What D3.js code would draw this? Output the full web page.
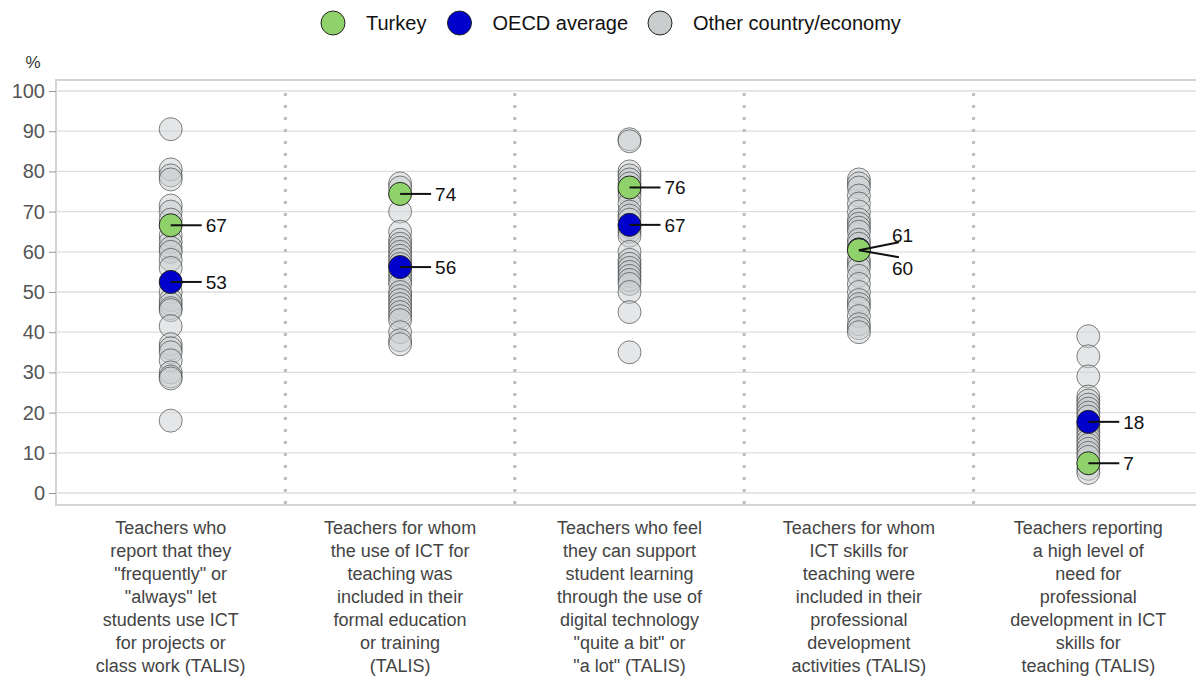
<!DOCTYPE html>
<html>
<head>
<meta charset="utf-8">
<script src="https://cdn.jsdelivr.net/npm/d3@7"></script>
<style>
  body { margin: 0; background: #fff; }
  svg { font-family: "Liberation Sans", Arial, sans-serif; }
</style>
</head>
<body>
<div id="chart"></div>
<script>
var categories = [
  ["Teachers who", "report that they", "\"frequently\" or", "\"always\" let", "students use ICT", "for projects or", "class work (TALIS)"],
  ["Teachers for whom", "the use of ICT for", "teaching was", "included in their", "formal education", "or training", "(TALIS)"],
  ["Teachers who feel", "they can support", "student learning", "through the use of", "digital technology", "\"quite a bit\" or", "\"a lot\" (TALIS)"],
  ["Teachers for whom", "ICT skills for", "teaching were", "included in their", "professional", "development", "activities (TALIS)"],
  ["Teachers reporting", "a high level of", "need for", "professional", "development in ICT", "skills for", "teaching (TALIS)"]
];

var turkey = [66.6, 74.4, 76.0, 60.4, 7.4];
var oecd = [52.5, 56.2, 66.7, 60.6, 17.7];

var others = [
  [90.5, 80.5, 79, 78, 71.5, 70, 68, 64, 62.5, 61, 60, 58, 56, 50, 48, 47, 46, 45.5, 41.5, 37, 36, 35, 33, 30, 29, 28.5, 18],
  [77, 76, 70, 65, 63, 62, 61, 60, 59, 58, 57, 55, 54, 53, 52, 50, 49, 48, 47, 46, 45, 44, 43, 40, 38, 37],
  [88, 87.5, 80, 79, 78, 77, 75, 74, 72, 70, 69, 68, 66, 65, 64, 60, 58, 57, 56, 55, 54, 53, 52, 50, 45, 35],
  [78, 77, 76, 74, 72, 70, 68, 67, 66, 65, 63, 62, 58, 57, 56, 54, 52, 50, 48, 47, 46, 44, 42, 41, 40],
  [39, 34, 29, 24, 23, 22, 21, 20, 19, 17, 16, 15, 14, 13, 12, 11, 10, 9, 6, 5]
];

var yTicks = [0, 10, 20, 30, 40, 50, 60, 70, 80, 90, 100];

var legendItems = [
  { label: "Turkey", color: "#8fd16a" },
  { label: "OECD average", color: "#0000cd" },
  { label: "Other country/economy", color: "#c9cdce" }
];

var width = 1196, height = 677;
var plotLeft = 56, plotRight = 1203, plotTop = 91, plotBottom = 493;

var svg = d3.select("#chart").append("svg")
  .attr("width", width)
  .attr("height", height);

var x = d3.scaleBand().domain(d3.range(categories.length)).range([plotLeft, plotRight]);
var y = d3.scaleLinear().domain([0, 100]).range([plotBottom, plotTop]);

// panel frame
svg.append("path")
  .attr("d", "M" + (plotRight + 2) + " 80 L" + plotLeft + " 80 L" + plotLeft + " 505 L" + (plotRight + 2) + " 505")
  .attr("fill", "none")
  .attr("stroke", "#d4d4d4")
  .attr("stroke-width", 2);

// gridlines
svg.append("g").selectAll("line").data(yTicks).join("line")
  .attr("x1", plotLeft).attr("x2", plotRight)
  .attr("y1", d => y(d)).attr("y2", d => y(d))
  .attr("stroke", "#dedede")
  .attr("stroke-width", 1.3);

// y axis
var yAxis = svg.append("g")
  .attr("transform", "translate(" + plotLeft + ",0)")
  .call(d3.axisLeft(y).tickValues(yTicks).tickSize(7).tickPadding(4));
yAxis.select(".domain").remove();
yAxis.selectAll("line").attr("stroke", "#999");
yAxis.selectAll("text")
  .attr("fill", "#555")
  .style("font-size", "20px")
  .style("font-family", "Liberation Sans, Arial, sans-serif");

svg.append("text")
  .attr("x", 33).attr("y", 68)
  .attr("text-anchor", "middle")
  .attr("fill", "#333")
  .style("font-size", "17px")
  .text("%");

// dotted separators
svg.append("g").selectAll("line").data(d3.range(1, categories.length)).join("line")
  .attr("x1", d => x(d)).attr("x2", d => x(d))
  .attr("y1", 93).attr("y2", 505)
  .attr("stroke", "#bdbdbd")
  .attr("stroke-width", 3)
  .attr("stroke-dasharray", "3,9");

var r = 11.5;

// other countries
others.forEach(function (vals, i) {
  svg.append("g").selectAll("circle").data(vals).join("circle")
    .attr("cx", x(i) + x.bandwidth() / 2)
    .attr("cy", d => y(d))
    .attr("r", r)
    .attr("fill", "#c9cecf")
    .attr("fill-opacity", 0.5)
    .attr("stroke", "#222")
    .attr("stroke-opacity", 0.55)
    .attr("stroke-width", 1);
});

// OECD average and Turkey
function drawHighlight(vals, color) {
  svg.append("g").selectAll("circle").data(vals).join("circle")
    .attr("cx", (d, i) => x(i) + x.bandwidth() / 2)
    .attr("cy", d => y(d))
    .attr("r", r)
    .attr("fill", color)
    .attr("stroke", "#222")
    .attr("stroke-width", 1);
}
drawHighlight(oecd, "#0000cd");
drawHighlight(turkey, "#8fd16a");

// value labels with leader lines
var labels = [];
categories.forEach(function (c, i) {
  labels.push({ i: i, v: turkey[i], who: "t" });
  labels.push({ i: i, v: oecd[i], who: "o" });
});
labels.forEach(function (d) {
  var cx = x(d.i) + x.bandwidth() / 2;
  var cy = y(d.v);
  var txt = Math.round(d.v);
  if (d.i === 3) {
    // the two values almost overlap: fan the labels out
    var up = d.who === "o";
    var base = y(turkey[3]);
    svg.append("line")
      .attr("x1", cx).attr("y1", base)
      .attr("x2", cx + 40).attr("y2", up ? base - 8 : base + 7)
      .attr("stroke", "#111").attr("stroke-width", 2);
    svg.append("text")
      .attr("x", cx + 33)
      .attr("y", up ? base - 8 : base + 25)
      .attr("fill", "#111")
      .style("font-size", "19px")
      .text(txt);
    return;
  }
  svg.append("line")
    .attr("x1", cx).attr("y1", cy)
    .attr("x2", cx + 31).attr("y2", cy)
    .attr("stroke", "#111")
    .attr("stroke-width", 2);
  svg.append("text")
    .attr("x", cx + 35)
    .attr("y", cy)
    .attr("dy", "0.36em")
    .attr("fill", "#111")
    .style("font-size", "19px")
    .text(txt);
});

// category labels
categories.forEach(function (lines, i) {
  var t = svg.append("text")
    .attr("x", x(i) + x.bandwidth() / 2)
    .attr("y", 534)
    .attr("text-anchor", "middle")
    .attr("fill", "#444")
    .style("font-size", "18px");
  lines.forEach(function (l, j) {
    t.append("tspan")
      .attr("x", x(i) + x.bandwidth() / 2)
      .attr("dy", j === 0 ? 0 : 23)
      .text(l);
  });
});

// legend
var legendX = [333, 459.5, 660];
var lg = svg.append("g").selectAll("g").data(legendItems).join("g")
  .attr("transform", (d, i) => "translate(" + legendX[i] + ",23)");
lg.append("circle")
  .attr("r", 12)
  .attr("fill", d => d.color)
  .attr("stroke", "#222")
  .attr("stroke-width", 1);
lg.append("text")
  .attr("x", 33)
  .attr("dy", "0.35em")
  .attr("fill", "#111")
  .style("font-size", "20px")
  .text(d => d.label);
</script>
</body>
</html>
